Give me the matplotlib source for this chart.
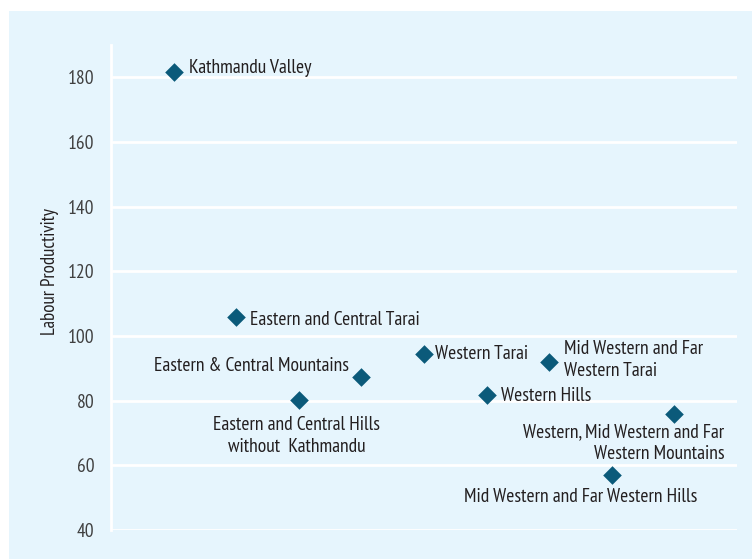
import matplotlib
matplotlib.use("Agg")
import matplotlib.pyplot as plt

# data
regions = [
    "Kathmandu Valley",
    "Eastern and Central Tarai",
    "Eastern and Central Hills\nwithout  Kathmandu",
    "Eastern & Central Mountains",
    "Western Tarai",
    "Western Hills",
    "Mid Western and Far\nWestern Tarai",
    "Mid Western and Far Western Hills",
    "Western, Mid Western and Far\nWestern Mountains",
]
x_pos = [1, 2, 3, 4, 5, 6, 7, 8, 9]
productivity = [181.5, 106, 80.3, 87.4, 94.5, 81.8, 92, 57, 75.9]
y_ticks = [40, 60, 80, 100, 120, 140, 160, 180]

# label placement (offset in pixels, alignment)
label_pos = [
    ((15, 4), "left", "center", "left"),
    ((14, -3), "left", "center", "left"),
    ((-2, -36), "center", "center", "center"),
    ((-12, 11), "right", "center", "right"),
    ((11, 0), "left", "center", "left"),
    ((14, -1), "left", "center", "left"),
    ((15, 2), "left", "center", "left"),
    ((-31, -22), "center", "center", "center"),
    ((50, -29), "right", "center", "right"),
]

plt.rcParams["font.family"] = ["PT Sans Narrow", "DejaVu Sans"]

bg = "#e6f5fd"
fig = plt.figure(figsize=(7.52, 5.59), dpi=100)
fig.patch.set_facecolor("white")
panel = plt.Rectangle((9 / 752, 0), 1, 1 - 11 / 559, transform=fig.transFigure,
                      facecolor=bg, edgecolor="none", zorder=-10)
fig.add_artist(panel)

ax = fig.add_axes([111 / 752, 29 / 559, 626 / 752, 485 / 559])
ax.set_facecolor(bg)
ax.scatter(x_pos, productivity, marker="D", s=90, color="#0b5a7a", zorder=3, linewidths=0)

for xi, yi, name, (off, ha, va, ma) in zip(x_pos, productivity, regions, label_pos):
    ax.annotate(name, (xi, yi), xytext=off, textcoords="offset pixels",
                ha=ha, va=va, multialignment=ma, fontsize=14, color="#231f20",
                linespacing=1.3)

ax.set_xlim(0, 10)
ax.set_ylim(40, 190)
ax.set_yticks(y_ticks)
ax.set_xticks([])
ax.grid(axis="y", color="white", linewidth=2)
ax.set_axisbelow(True)
for s in ["top", "right", "bottom"]:
    ax.spines[s].set_visible(False)
ax.spines["left"].set_color("white")
ax.spines["left"].set_linewidth(2)
ax.tick_params(axis="y", length=0, labelsize=14, labelcolor="#404040", pad=12)
ax.set_ylabel("Labour Productivity", fontsize=13.5, color="#231f20", va="center")
ax.yaxis.set_label_coords(-0.097, 0.532)

fig.savefig("out.png", dpi=100, facecolor=fig.get_facecolor())
